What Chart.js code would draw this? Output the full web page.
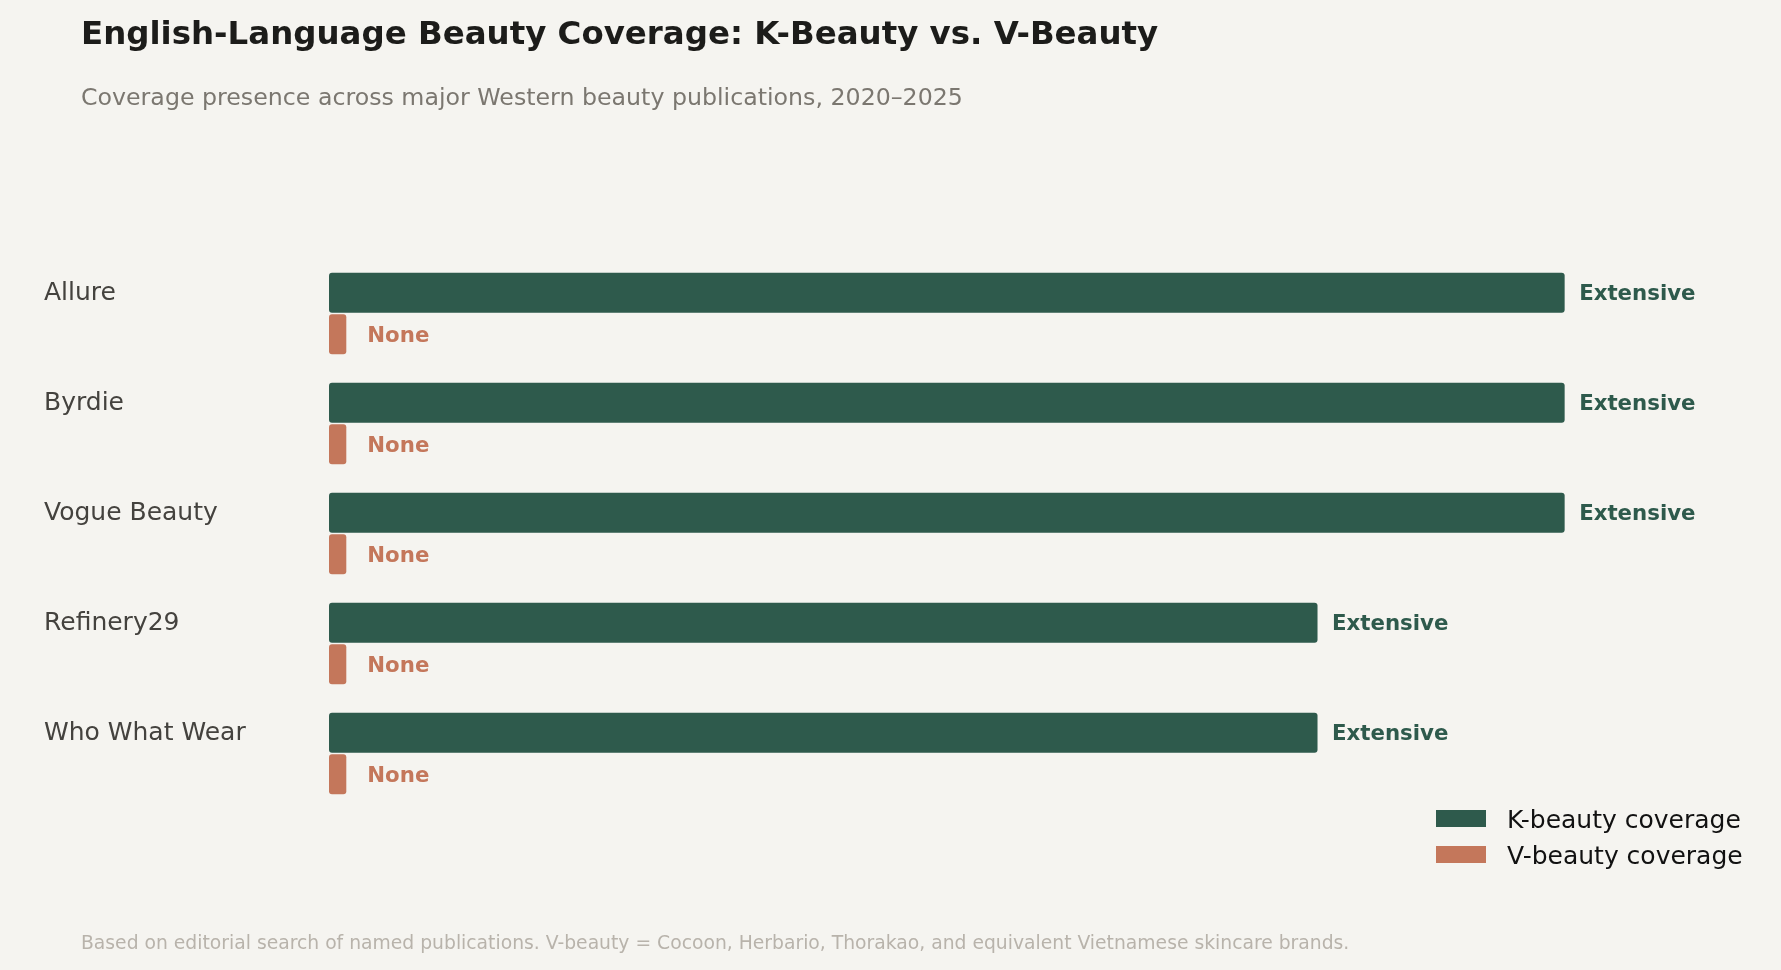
<!DOCTYPE html>
<html>
<head>
<meta charset="utf-8">
<title>K-Beauty vs. V-Beauty coverage</title>
<script src="https://cdn.jsdelivr.net/npm/chart.js@4.4.1/dist/chart.umd.min.js"></script>
<style>
  html, body { margin: 0; padding: 0; background: #f5f4f0; }
  body { width: 1781px; height: 970px; position: relative; overflow: hidden; font-family: 'DejaVu Sans', sans-serif; }
  .txt { position: absolute; left: 81px; white-space: nowrap; line-height: 1; margin: 0; }
  #title { top: 16.9px; font-size: 32.45px; font-weight: bold; color: #1c1c1a; }
  #subtitle { top: 86px; font-size: 23.7px; color: #7b7770; }
  #footer { top: 933.5px; font-size: 18.75px; color: #b8b3ab; }
  #wrap { position: absolute; left: 0; top: 0; width: 1781px; height: 970px; }
  #legend { position: absolute; left: 1436px; top: 806.6px; }
  .leg-row { position: relative; height: 36px; line-height: 1; font-size: 25px; color: #111; white-space: nowrap; }
  .leg-sw { position: absolute; left: 0; top: 3.4px; width: 50px; height: 17px; }
  .leg-tx { position: absolute; left: 71px; top: 0; }
</style>
</head>
<body>
<div id="wrap"><canvas id="coverageChart"></canvas></div>
<h1 class="txt" id="title">English-Language Beauty Coverage: K-Beauty vs. V-Beauty</h1>
<p class="txt" id="subtitle">Coverage presence across major Western beauty publications, 2020–2025</p>
<div id="legend"></div>
<p class="txt" id="footer">Based on editorial search of named publications. V-beauty = Cocoon, Herbario, Thorakao, and equivalent Vietnamese skincare brands.</p>

<script>
// Datos del gráfico
const publications = ['Allure', 'Byrdie', 'Vogue Beauty', 'Refinery29', 'Who What Wear'];
const kBeautyValues = [100, 100, 100, 80, 80];
const vBeautyValues = [1.4, 1.4, 1.4, 1.4, 1.4];
const kBeautyLabels = ['Extensive', 'Extensive', 'Extensive', 'Extensive', 'Extensive'];
const vBeautyLabels = ['None', 'None', 'None', 'None', 'None'];

const GREEN = '#2e5a4c';
const TERRA = '#c4775b';

document.addEventListener('DOMContentLoaded', function() {
    Chart.defaults.font.family = "'DejaVu Sans', sans-serif";

    // Etiquetas de texto al final de cada barra
    const valueLabels = {
        id: 'valueLabels',
        afterDatasetsDraw(chart) {
            const ctx = chart.ctx;
            const size = 21.3;
            ctx.save();
            ctx.font = 'bold ' + size + "px 'DejaVu Sans'";
            ctx.textAlign = 'left';
            ctx.textBaseline = 'alphabetic';
            chart.data.datasets.forEach((ds, i) => {
                const meta = chart.getDatasetMeta(i);
                meta.data.forEach((bar, j) => {
                    ctx.fillStyle = ds.labelColor;
                    ctx.fillText(ds.valueText[j], bar.x + ds.labelGap, bar.y + size * 0.3645);
                });
            });
            ctx.restore();
        }
    };

    const ctx = document.getElementById('coverageChart');
    const chart = new Chart(ctx, {
        type: 'bar',
        data: {
            labels: publications,
            datasets: [{
                label: 'K-beauty coverage',
                data: kBeautyValues,
                valueText: kBeautyLabels,
                backgroundColor: GREEN,
                labelColor: GREEN,
                labelGap: 14.5
            }, {
                label: 'V-beauty coverage',
                data: vBeautyValues,
                valueText: vBeautyLabels,
                backgroundColor: TERRA,
                labelColor: TERRA,
                labelGap: 21
            }]
        },
        options: {
            indexAxis: 'y',
            responsive: true,
            maintainAspectRatio: false,
            animation: false,
            categoryPercentage: 0.7564,
            barPercentage: 0.9615,
            datasets: {
                bar: { borderRadius: 3, borderSkipped: false }
            },
            layout: {
                padding: { top: 258.5, bottom: 161.5, left: 44, right: 31 }
            },
            plugins: {
                legend: { display: false },
                tooltip: { enabled: false }
            },
            scales: {
                x: {
                    display: false,
                    min: 0,
                    max: 115
                },
                y: {
                    grid: { display: false },
                    border: { display: false },
                    afterFit(scale) { scale.width = 285; },
                    ticks: {
                        crossAlign: 'far',
                        labelOffset: -19.8,
                        color: '#44423e',
                        font: { size: 25 }
                    }
                }
            }
        },
        plugins: [valueLabels]
    });

    // Leyenda construida a partir de los datasets
    const legend = document.getElementById('legend');
    chart.data.datasets.forEach(ds => {
        const row = document.createElement('div');
        row.className = 'leg-row';
        const sw = document.createElement('span');
        sw.className = 'leg-sw';
        sw.style.background = ds.backgroundColor;
        const tx = document.createElement('span');
        tx.className = 'leg-tx';
        tx.textContent = ds.label;
        row.appendChild(sw);
        row.appendChild(tx);
        legend.appendChild(row);
    });
});
</script>
</body>
</html>
